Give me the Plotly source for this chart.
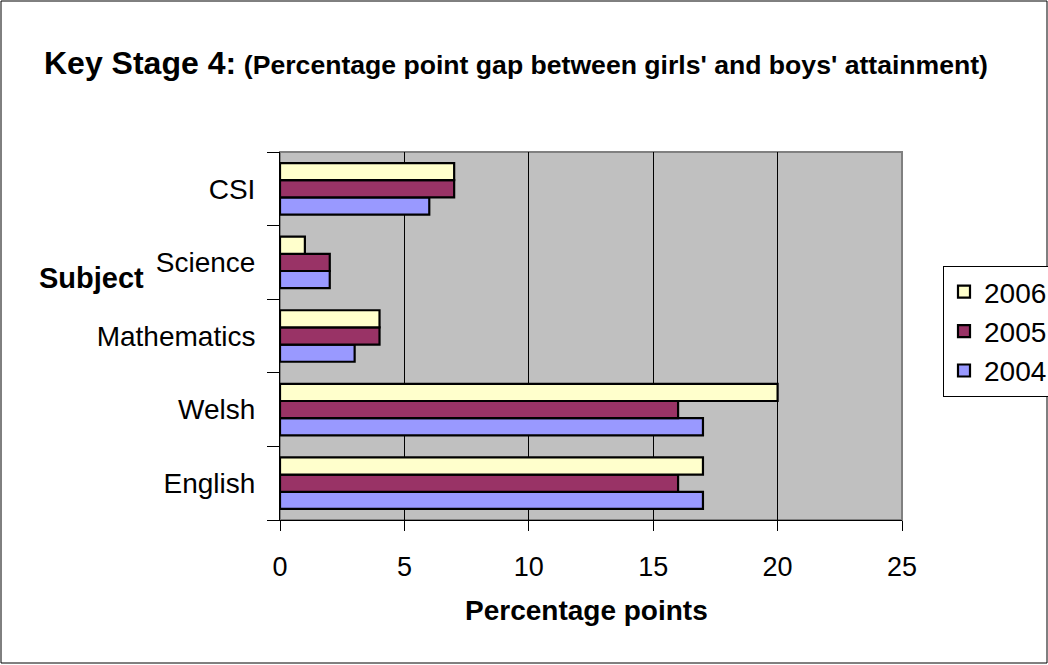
import plotly.graph_objects as go

subjects = ["English", "Welsh", "Mathematics", "Science", "CSI"]
years = ["2004", "2005", "2006"]
values_2004 = [17, 17, 3, 2, 6]
values_2005 = [16, 16, 4, 2, 7]
values_2006 = [17, 20, 4, 1, 7]
colors = {"2004": "#9999FF", "2005": "#993366", "2006": "#FFFFCC"}
series = {"2004": values_2004, "2005": values_2005, "2006": values_2006}
x_ticks = [0, 5, 10, 15, 20, 25]

fig = go.Figure()
for yr in years:
    fig.add_trace(go.Bar(
        y=subjects, x=series[yr], name=yr, orientation="h",
        marker=dict(color=colors[yr], line=dict(color="black", width=2.2)),
    ))

W, H = 1048, 665
L, R, T, B = 280, 902, 152, 520
pw, ph = R - L, B - T

def px(x):
    return (x - L) / pw

def py(y):
    return (B - y) / ph

font = "Arial, Liberation Sans, sans-serif"

fig.update_layout(
    width=W, height=H,
    margin=dict(l=L, r=W - R, t=T, b=H - B, autoexpand=False),
    paper_bgcolor="white", plot_bgcolor="#C0C0C0",
    barmode="group", bargap=0.30, bargroupgap=0,
    font=dict(family=font, size=28, color="black"),
    showlegend=True,
    legend=dict(
        x=px(943), y=py(266), xanchor="left", yanchor="top",
        traceorder="reversed", bordercolor="black", borderwidth=1,
        bgcolor="white", font=dict(size=28), itemwidth=30,
    ),
    xaxis=dict(
        range=[0, 25], tickvals=x_ticks, ticktext=[str(v) for v in x_ticks],
        showgrid=True, gridcolor="black", gridwidth=1,
        zeroline=False, showline=True, linecolor="black", linewidth=1,
        ticks="outside", ticklen=10, tickcolor="black",
        ticklabelstandoff=13, tickfont=dict(size=27),
    ),
    yaxis=dict(
        categoryorder="array", categoryarray=subjects,
        showgrid=False, zeroline=False, showline=True, linecolor="black", linewidth=1,
        ticks="outside", ticklen=12, tickcolor="black", tickson="boundaries",
        ticklabelstandoff=18, tickfont=dict(size=28),
    ),
    shapes=[
        dict(type="rect", xref="paper", yref="paper", x0=0, x1=1, y0=0, y1=1,
             line=dict(color="#808080", width=2), layer="below"),
        dict(type="rect", xref="paper", yref="paper",
             x0=px(1), x1=px(1047), y0=py(663), y1=py(1),
             line=dict(color="black", width=1)),
    ],
    annotations=[
        dict(xref="paper", yref="paper", x=px(42), y=py(63), xanchor="left", yanchor="middle",
             showarrow=False,
             text="<b><span style='font-size:32px'>Key Stage 4:</span> <span style='font-size:26.6px'>(Percentage point gap between girls' and boys' attainment)</span></b>"),
        dict(xref="paper", yref="paper", x=px(91), y=py(278), xanchor="center", yanchor="middle",
             showarrow=False, text="<b>Subject</b>", font=dict(size=29)),
        dict(xref="paper", yref="paper", x=px(586), y=py(610), xanchor="center", yanchor="middle",
             showarrow=False, text="<b>Percentage points</b>", font=dict(size=28)),
    ],
)

fig.write_html("out.html", config={"displayModeBar": False},
               post_script="document.body.style.margin='0px';")
